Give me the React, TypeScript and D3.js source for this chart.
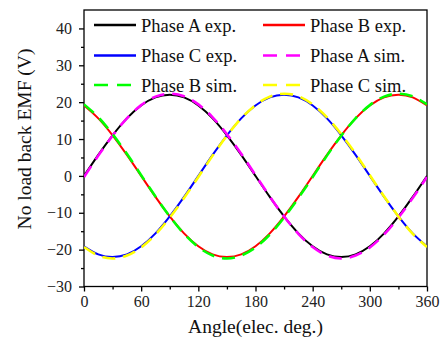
import { useEffect, useRef } from 'react';
import * as d3 from 'd3';

// angle samples (elec. deg.)
const angles = [
  0, 15, 30, 45, 60, 75, 90, 105, 120, 135, 150, 165, 180, 195, 210, 225, 240, 255, 270, 285,
  300, 315, 330, 345, 360,
];

const phaseAExp = [
  0, 5.7, 11.0, 15.6, 19.1, 21.3, 22.0, 21.3, 19.1, 15.6, 11.0, 5.7, 0, -5.7, -11.0, -15.6,
  -19.1, -21.3, -22.0, -21.3, -19.1, -15.6, -11.0, -5.7, 0,
];
const phaseBExp = [
  19.1, 15.6, 11.0, 5.7, 0, -5.7, -11.0, -15.6, -19.1, -21.3, -22.0, -21.3, -19.1, -15.6, -11.0,
  -5.7, 0, 5.7, 11.0, 15.6, 19.1, 21.3, 22.0, 21.3, 19.1,
];
const phaseCExp = [
  -19.1, -21.3, -22.0, -21.3, -19.1, -15.6, -11.0, -5.7, 0, 5.7, 11.0, 15.6, 19.1, 21.3, 22.0,
  21.3, 19.1, 15.6, 11.0, 5.7, 0, -5.7, -11.0, -15.6, -19.1,
];
const phaseASim = [
  -0.3, 5.5, 10.9, 15.6, 19.2, 21.5, 22.3, 21.6, 19.4, 15.9, 11.3, 6.0, 0.2, -5.6, -11.0, -15.7,
  -19.3, -21.6, -22.4, -21.6, -19.4, -15.9, -11.3, -6.0, -0.3,
];
const phaseBSim = [
  19.4, 15.9, 11.3, 6.0, 0.2, -5.6, -11.0, -15.7, -19.3, -21.6, -22.4, -21.6, -19.4, -15.9,
  -11.3, -6.0, -0.3, 5.5, 10.9, 15.6, 19.2, 21.5, 22.3, 21.6, 19.4,
];
const phaseCSim = [
  -19.3, -21.6, -22.4, -21.6, -19.4, -15.9, -11.3, -6.0, -0.3, 5.5, 10.9, 15.6, 19.2, 21.5, 22.3,
  21.6, 19.4, 15.9, 11.3, 6.0, 0.2, -5.6, -11.0, -15.7, -19.3,
];

const seriesNames = [
  'Phase A exp.',
  'Phase B exp.',
  'Phase C exp.',
  'Phase A sim.',
  'Phase B sim.',
  'Phase C sim.',
];
const seriesValues = [phaseAExp, phaseBExp, phaseCExp, phaseASim, phaseBSim, phaseCSim];
const seriesColors = ['#000000', '#ff0000', '#0000ff', '#ff00ff', '#00ff00', '#ffff00'];
const seriesDashed = [false, false, false, true, true, true];

const xTicks = [0, 60, 120, 180, 240, 300, 360];
const yTicks = [-30, -20, -10, 0, 10, 20, 30, 40];

const WIDTH = 445;
const HEIGHT = 346;
const FONT = "'Liberation Serif', 'Times New Roman', serif";

export default function App() {
  const svgRef = useRef<SVGSVGElement>(null);

  useEffect(() => {
    if (!svgRef.current) return;
    const svg = d3.select(svgRef.current);
    svg.selectAll('*').remove();

    const margin = { top: 10, right: 18, bottom: 59.5, left: 84 };
    const innerW = WIDTH - margin.left - margin.right;
    const innerH = HEIGHT - margin.top - margin.bottom;

    const x = d3.scaleLinear().domain([0, 360]).range([0, innerW]);
    const y = d3.scaleLinear().domain([-30, 45]).range([innerH, 0]);

    const chart = svg
      .append('g')
      .attr('transform', `translate(${margin.left},${margin.top})`);

    // curves
    const line = d3
      .line<number>()
      .x((_, i) => x(angles[i]))
      .y((v) => y(v))
      .curve(d3.curveNatural);

    const clipId = 'plot-clip';
    svg
      .append('defs')
      .append('clipPath')
      .attr('id', clipId)
      .append('rect')
      .attr('x', margin.left)
      .attr('y', margin.top)
      .attr('width', innerW)
      .attr('height', innerH);

    const curves = svg.append('g').attr('clip-path', `url(#${clipId})`)
      .append('g')
      .attr('transform', `translate(${margin.left},${margin.top})`);

    seriesValues.forEach((values, i) => {
      curves
        .append('path')
        .attr('d', line(values))
        .attr('fill', 'none')
        .attr('stroke', seriesColors[i])
        .attr('stroke-width', seriesDashed[i] ? 2.6 : 2)
        .attr('stroke-dasharray', seriesDashed[i] ? '13,8' : null);
    });

    // frame
    chart
      .append('rect')
      .attr('width', innerW)
      .attr('height', innerH)
      .attr('fill', 'none')
      .attr('stroke', '#000')
      .attr('stroke-width', 1.3);

    const styleAxis = (g: d3.Selection<SVGGElement, unknown, null, undefined>) => {
      g.select('.domain').remove();
      g.selectAll('.tick line').attr('stroke', '#000').attr('stroke-width', 1.3);
      g.selectAll('.tick text')
        .attr('fill', '#222')
        .attr('font-size', 16)
        .attr('font-family', FONT);
    };

    // x axis
    chart
      .append('g')
      .attr('transform', `translate(0,${innerH})`)
      .call(d3.axisBottom(x).tickValues(xTicks).tickSize(5).tickPadding(4))
      .call(styleAxis);
    chart
      .append('g')
      .attr('transform', `translate(0,${innerH})`)
      .call(d3.axisBottom(x).tickValues(d3.range(30, 360, 60)).tickSize(3).tickFormat(() => ''))
      .call(styleAxis);

    // y axis
    chart
      .append('g')
      .call(d3.axisLeft(y).tickValues(yTicks).tickSize(5).tickPadding(7))
      .call(styleAxis);
    chart
      .append('g')
      .call(
        d3
          .axisLeft(y)
          .tickValues(d3.range(-25, 45, 10))
          .tickSize(3)
          .tickFormat(() => '')
      )
      .call(styleAxis);

    // axis titles
    svg
      .append('text')
      .attr('x', margin.left + innerW / 2)
      .attr('y', 333)
      .attr('text-anchor', 'middle')
      .attr('font-size', 19.5)
      .attr('font-family', FONT)
      .attr('fill', '#111')
      .text('Angle(elec. deg.)');

    svg
      .append('text')
      .attr('transform', 'translate(31,139) rotate(-90)')
      .attr('text-anchor', 'middle')
      .attr('font-size', 19.5)
      .attr('font-family', FONT)
      .attr('fill', '#111')
      .text('No load back EMF (V)');

    // legend
    const colX = [94, 263];
    const rowY = [25, 55.5, 85];
    seriesNames.forEach((name, i) => {
      const cx = colX[i % 2];
      const cy = rowY[Math.floor(i / 2)];
      const item = svg.append('g').attr('transform', `translate(${cx},${cy})`);
      item
        .append('line')
        .attr('x1', 0)
        .attr('x2', 42)
        .attr('stroke', seriesColors[i])
        .attr('stroke-width', seriesDashed[i] ? 2.6 : 2.4)
        .attr('stroke-dasharray', seriesDashed[i] ? '14,9' : null);
      item
        .append('text')
        .attr('x', 47)
        .attr('y', 6.5)
        .attr('font-size', 18.5)
        .attr('font-family', FONT)
        .attr('fill', '#111')
        .text(name);
    });
  }, []);

  return (
    <svg
      ref={svgRef}
      width={WIDTH}
      height={HEIGHT}
      viewBox={`0 0 ${WIDTH} ${HEIGHT}`}
      style={{ position: 'absolute', left: 0, top: 0, background: '#fff' }}
    />
  );
}
